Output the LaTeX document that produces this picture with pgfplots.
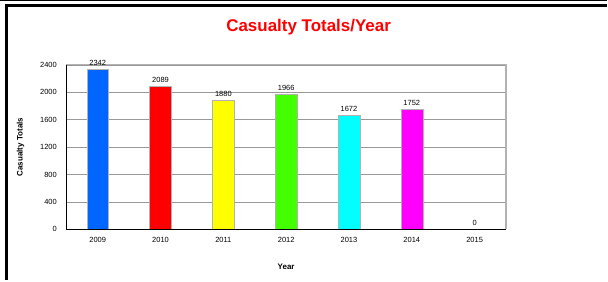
\documentclass[border=0pt]{standalone}
\usepackage{pgfplots}
\pgfplotsset{compat=1.18}
\usepackage{fontspec}
\setmainfont{Liberation Sans}
\definecolor{b1}{HTML}{0066FF}
\definecolor{b2}{HTML}{FF0000}
\definecolor{b3}{HTML}{FFFF00}
\definecolor{b4}{HTML}{44FF00}
\definecolor{b5}{HTML}{00FFFF}
\definecolor{b6}{HTML}{FF00FF}
\begin{document}
\begin{tikzpicture}[x=1pt,y=1pt]
\path[fill=white] (-66,-51) rectangle (542,230);
\draw[line width=1pt,black] (-66,229) -- (542,229);
\draw[line width=2.5pt,black] (-61,224.5) -- (542,224.5);
\draw[line width=2.5pt,black] (-60,225) -- (-60,-51);
\node[font=\bfseries\fontsize{17}{19}\selectfont, text=red] at (243,203) {Casualty Totals/Year};
\begin{axis}[
  width=441pt, height=165pt, scale only axis,
  xmin=-0.5, xmax=6.5, ymin=0, ymax=2400,
  xtick={0,...,6}, xticklabels={2009,2010,2011,2012,2013,2014,2015},
  ytick={0,400,...,2400},
  tick style={draw=none},
  ymajorgrids, grid style={gray!80, line width=0.6pt},
  axis line style={draw=none},
  ticklabel style={font=\fontsize{7.5}{9}\selectfont},
  /pgf/number format/assume math mode=true,
  /pgf/number format/set thousands separator={},
  xticklabel style={yshift=-4pt},
  yticklabel style={xshift=-6pt},
  xlabel={\bfseries Year}, ylabel={\bfseries Casualty Totals},
  label style={font=\fontsize{8}{9}\selectfont\bfseries},
  xlabel style={at={(axis description cs:0.5,-0.23)}, anchor=center},
  ylabel style={at={(axis description cs:-0.104,0.5)}, anchor=center},
  clip=false,
  nodes near coords,
  every node near coord/.append style={font=\fontsize{7.5}{9}\selectfont, text=black},
  point meta=explicit,
]
\draw[gray!60, line width=1.2pt] (rel axis cs:0,1) -- (rel axis cs:1,1) -- (rel axis cs:1,0);
\addplot[ybar, bar width=22pt, fill=b1, draw=gray!60] coordinates {(0,2342) [2342]};
\addplot[ybar, bar width=22pt, fill=b2, draw=gray!60] coordinates {(1,2089) [2089]};
\addplot[ybar, bar width=22pt, fill=b3, draw=gray!60] coordinates {(2,1880) [1880]};
\addplot[ybar, bar width=22pt, fill=b4, draw=gray!60] coordinates {(3,1966) [1966]};
\addplot[ybar, bar width=22pt, fill=b5, draw=gray!60] coordinates {(4,1672) [1672]};
\addplot[ybar, bar width=22pt, fill=b6, draw=gray!60] coordinates {(5,1752) [1752]};
\addplot[ybar, bar width=22pt, fill=white, draw=none] coordinates {(6,0) [0]};
\draw[black, line width=1.2pt] (rel axis cs:0,1) -- (rel axis cs:0,0) -- (rel axis cs:1,0);
\end{axis}
\end{tikzpicture}
\end{document}
